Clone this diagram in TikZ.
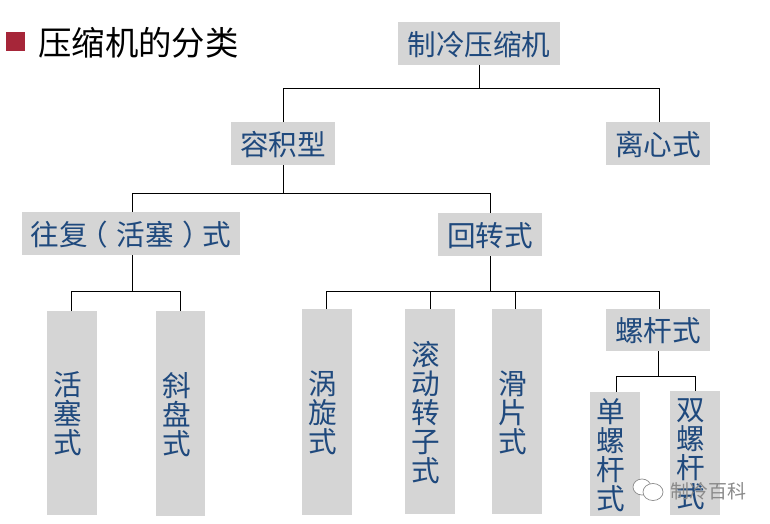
\documentclass[tikz,border=0pt]{standalone}
\usepackage{fontspec}
\setmainfont{Noto Sans CJK SC}
\definecolor{boxgray}{HTML}{D5D5D5}
\definecolor{boxblue}{HTML}{1F497D}
\definecolor{bulletred}{HTML}{A62639}
\definecolor{markgray}{HTML}{8A8A8A}
\tikzset{
  catbox/.style={fill=boxgray,text=boxblue,inner sep=0pt,outer sep=0pt,
    font=\fontsize{28.6}{29}\selectfont},
  link/.style={draw=black,line width=1pt},
}
% \bx{name}{x1}{y1}{x2}{y2}{text}
\newcommand{\bx}[6]{%
  \pgfmathsetmacro{\bxw}{#4-#2}\pgfmathsetmacro{\bxh}{#5-#3}%
  \pgfmathsetmacro{\bxcx}{(#2+#4)/2}\pgfmathsetmacro{\bxcy}{(#3+#5)/2}%
  \node[catbox,minimum width=\bxw pt,minimum height=\bxh pt] (#1) at (\bxcx,\bxcy) {\vbox{\kern2pt\hbox{#6}}};%
}
\newcommand{\vchars}[1]{\vbox{\baselineskip=29pt\lineskiplimit=-100pt\halign{\hfil##\hfil\kern8pt\cr #1}}}
\begin{document}
\begin{tikzpicture}[x=1pt,y=-1pt]
\useasboundingbox (0,0) rectangle (770,524);
% title
\fill[bulletred] (6,32) rectangle (25,51);
\node[anchor=west,inner sep=0pt,text=black,font=\fontsize{33.4}{33.4}\selectfont] (title) at (38,43) {压缩机的分类};
% boxes
\bx{root}{398}{22}{560}{65}{制冷压缩机}
\bx{vol}{231}{122}{335}{165}{容积型}
\bx{cen}{606}{122}{710}{165}{离心式}
\bx{rec}{22}{212}{240}{255}{往复\kern-9pt（\kern9pt活塞\kern9pt）\kern-9pt式}
\bx{rot}{438}{213}{542}{256}{回转式}
\bx{pis}{47}{311}{97}{515}{\vchars{活\cr 塞\cr 式\cr}}
\bx{swa}{156}{311}{205}{516}{\vchars{斜\cr 盘\cr 式\cr}}
\bx{sco}{302}{309}{352}{515}{\vchars{涡\cr 旋\cr 式\cr}}
\bx{rol}{405}{309}{455}{514}{\vchars{滚\cr 动\cr 转\cr 子\cr 式\cr}}
\bx{sli}{492}{309}{542}{514}{\vchars{滑\cr 片\cr 式\cr}}
\bx{scr}{606}{309}{710}{351}{螺杆式}
\bx{sin}{590}{392}{640}{516}{\vchars{单\cr 螺\cr 杆\cr 式\cr}}
\bx{dou}{670}{391}{720}{515}{\vchars{双\cr 螺\cr 杆\cr 式\cr}}
% junctions
\coordinate (j1) at (root.south |- 0,89);
\coordinate (j2) at (vol.south |- 0,193);
\coordinate (j3) at ([xshift=1pt]rec.south |- 0,291);
\coordinate (j4) at (rot.south |- 0,291);
\coordinate (j5) at (scr.south |- 0,376);
% connectors
\draw[link] (root.south) -- (j1);
\draw[link] (vol.north) |- (j1);
\draw[link] ([xshift=1pt]cen.north) |- (j1);
\draw[link] (vol.south) -- (j2);
\draw[link] ([xshift=1pt]rec.north) |- (j2);
\draw[link] (rot.north) |- (j2);
\draw[link] ([xshift=1pt]rec.south) -- (j3);
\draw[link] ([xshift=-1pt]pis.north) |- (j3);
\draw[link] (swa.north) |- (j3);
\draw[link] (rot.south) -- (j4);
\draw[link] ([xshift=-1pt]sco.north) |- (j4);
\draw[link] (rol.north) |- (j4);
\draw[link] ([xshift=-2pt]sli.north) |- (j4);
\draw[link] ([xshift=1pt]scr.north) |- (j4);
\draw[link] (scr.south) -- (j5);
\draw[link] ([xshift=1pt]sin.north) |- (j5);
\draw[link] (dou.north) |- (j5);
% watermark
\filldraw[draw=markgray,fill=white,line width=.7pt] (642,487) ellipse (9 and 8);
\filldraw[draw=markgray,fill=white,line width=.7pt] (653,492) ellipse (10 and 8.5);
\node[anchor=west,inner sep=0pt,text=markgray,font=\fontsize{19}{19}\selectfont] (mark) at (670,491) {制冷百科};
\end{tikzpicture}
\end{document}
